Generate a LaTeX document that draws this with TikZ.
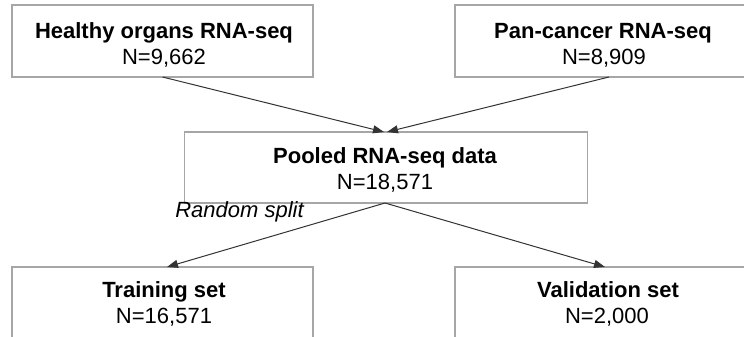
\documentclass[tikz,border=0pt]{standalone}
\usepackage{fontspec}
\setmainfont{Liberation Sans}
\usetikzlibrary{arrows.meta,calc}

\definecolor{boxline}{HTML}{A6A6A6}
\definecolor{flowline}{HTML}{333333}

\tikzset{
  stagebox/.style={draw=boxline, line width=1.6pt, fill=white, inner sep=0pt, outer sep=0pt},
  headtext/.style={anchor=base, inner sep=0pt, font=\fontsize{22}{26}\selectfont\bfseries},
  counttext/.style={anchor=base, inner sep=0pt, font=\fontsize{22}{26}\selectfont},
  notetext/.style={anchor=base, inner sep=0pt, font=\fontsize{22}{26}\selectfont\itshape},
  flow/.style={draw=flowline, line width=1pt, -{Triangle[length=11pt,width=8pt]}},
}

\begin{document}
\begin{tikzpicture}[x=1pt, y=-1pt]
  \clip (0,0) rectangle (744,337);
  \fill[white] (0,0) rectangle (744,337);

  % source data sets
  \node[stagebox, minimum width=301pt, minimum height=72pt] (healthy) at (162.5,41) {};
  \node[headtext] (healthyT) at (164,39) {Healthy organs RNA-seq};
  \node[counttext] (healthyN) at (164,65) {N=9,662};

  \node[stagebox, minimum width=301pt, minimum height=72pt] (cancer) at (605.5,41) {};
  \node[headtext] (cancerT) at (603,39) {Pan-cancer RNA-seq};
  \node[counttext] (cancerN) at (604,65) {N=8,909};

  % pooled data
  \node[stagebox, minimum width=403pt, minimum height=71pt] (pooled) at (386,167.5) {};
  \node[headtext] (pooledT) at (385,163) {Pooled RNA-seq data};
  \node[counttext] (pooledN) at (385,189) {N=18,571};

  % split result (boxes run past the lower edge)
  \node[stagebox, minimum width=301pt, minimum height=100pt] (train) at (162.5,317) {};
  \node[headtext] (trainT) at (164,297) {Training set};
  \node[counttext] (trainN) at (164,323) {N=16,571};

  \node[stagebox, minimum width=302pt, minimum height=100pt] (valid) at (606,317) {};
  \node[headtext] (validT) at (608,297) {Validation set};
  \node[counttext] (validN) at (607,323) {N=2,000};

  \node[notetext] (split) at (239.5,217) {Random split};

  % connectors
  \draw[flow] (healthy.south) -- ($(pooled.north)+(-2,0)$);
  \draw[flow] ($(cancer.south)+(3.5,0)$) -- ($(pooled.north)+(1,0)$);
  \draw[flow] ($(pooled.south)+(-1,0)$) -- ($(train.north)+(4.5,0)$);
  \draw[flow] ($(pooled.south)+(-1,0)$) -- ($(valid.north)+(-1,0)$);
\end{tikzpicture}
\end{document}
